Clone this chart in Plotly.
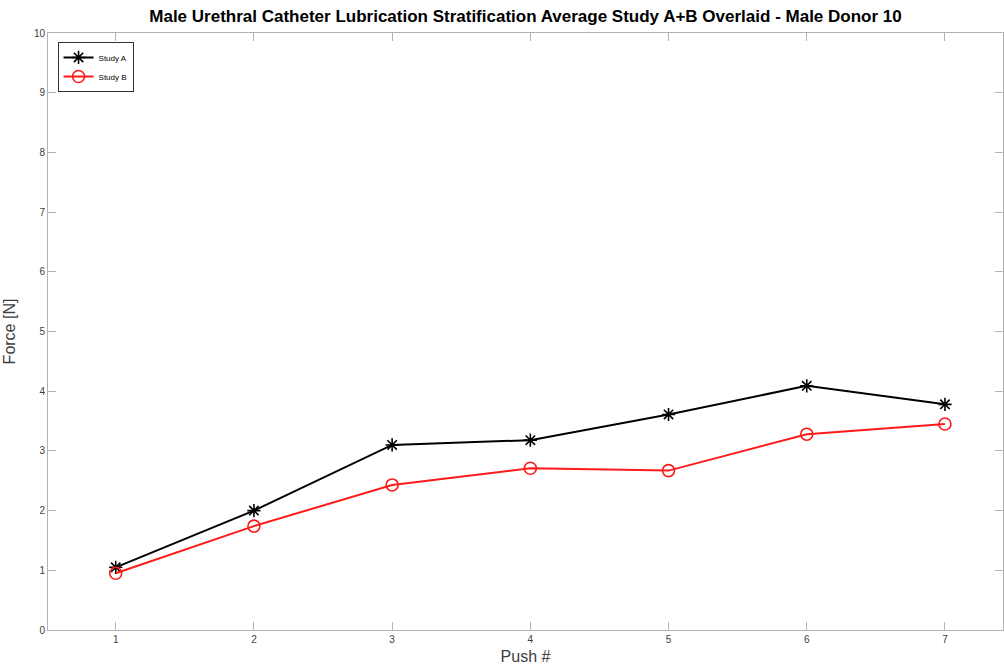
import plotly.graph_objects as go

push = [1, 2, 3, 4, 5, 6, 7]
study_a = [1.05, 2.00, 3.10, 3.18, 3.61, 4.09, 3.78]
study_b = [0.95, 1.74, 2.43, 2.71, 2.67, 3.28, 3.45]
y_ticks = [0, 1, 2, 3, 4, 5, 6, 7, 8, 9, 10]

fig = go.Figure()
fig.add_trace(go.Scatter(
    x=push, y=study_a, name="Study A", mode="lines+markers",
    line=dict(color="black", width=2),
    marker=dict(symbol="asterisk-open", size=11, line=dict(color="black", width=1.6)),
))
fig.add_trace(go.Scatter(
    x=push, y=study_b, name="Study B", mode="lines+markers",
    line=dict(color="#ff1a1a", width=2),
    marker=dict(symbol="circle-open", size=12, color="#ff1a1a", line=dict(color="#ff1a1a", width=1.6)),
))

axis_common = dict(
    showgrid=False, zeroline=False, showline=True, linecolor="#b3b3b3", linewidth=1,
    ticks="inside", ticklen=8, tickcolor="#b3b3b3", mirror="ticks",
    tickfont=dict(family="Liberation Sans, Arial", size=10, color="#404040"),
)

fig.update_layout(
    width=1004, height=669,
    margin=dict(l=48, r=1, t=33, b=39),
    paper_bgcolor="white", plot_bgcolor="white",
    title=dict(
        text="<b>Male Urethral Catheter Lubrication Stratification Average Study A+B Overlaid - Male Donor 10</b>",
        x=0.5, xanchor="center", xref="paper", y=0.985, yanchor="top",
        font=dict(family="Liberation Sans, Arial", size=17, color="black"),
    ),
    xaxis=dict(
        axis_common, range=[0.51, 7.42], tickvals=push,
        title=dict(text="Push #", standoff=6,
                   font=dict(family="Liberation Sans, Arial", size=16, color="#404040")),
    ),
    yaxis=dict(
        axis_common, range=[0, 10], tickvals=y_ticks,
        title=dict(text="Force [N]", standoff=14,
                   font=dict(family="Liberation Sans, Arial", size=16, color="#404040")),
    ),
    legend=dict(
        x=0.01, y=0.985, xanchor="left", yanchor="top",
        bgcolor="white", bordercolor="#333333", borderwidth=1,
        font=dict(family="Liberation Sans, Arial", size=8, color="black"),
        itemwidth=30, tracegroupgap=0,
    ),
)

fig.write_html("out.html")
